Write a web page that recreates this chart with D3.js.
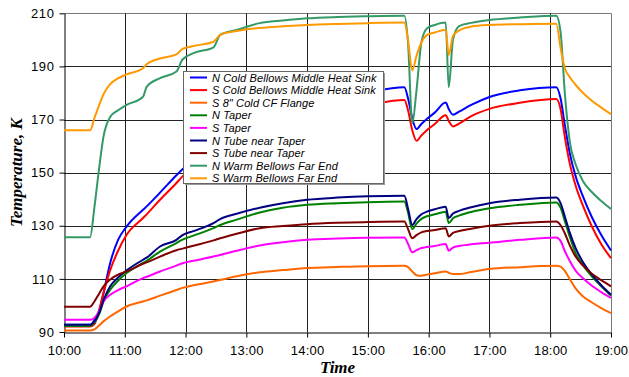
<!DOCTYPE html>
<html>
<head>
<meta charset="utf-8">
<script src="https://cdn.jsdelivr.net/npm/d3@7"></script>
<style>
  html, body { margin: 0; padding: 0; background: #fff; }
  svg { display: block; }
</style>
</head>
<body>
<div id="chart"></div>
<script>
// time of day in hours
const times = [10.0, 10.43, 10.5, 10.58, 10.65, 10.76, 10.89, 11.03, 11.3, 11.36, 11.58, 11.85, 11.95, 12.13, 12.46, 12.57, 12.84, 13.22, 13.6, 14.0, 14.5, 15.0, 15.6, 15.66, 15.73, 15.8, 15.88, 15.97, 16.1, 16.28, 16.33, 16.4, 16.5, 16.7, 17.0, 17.5, 18.1, 18.17, 18.24, 18.32, 18.42, 18.54, 18.68, 18.84, 19.0];

const nColdBellows = [92.7, 92.7, 94.5, 98, 104.6, 116, 124.7, 129.7, 136, 137.3, 142.5, 149, 151.3, 154.5, 159.5, 161, 164.5, 168.5, 171.8, 174.8, 177.8, 180.3, 182.2, 178, 170.5, 166.4, 168.3, 170.2, 172.6, 176.4, 174, 171.8, 173, 175.5, 178.5, 181, 182.2, 178, 168, 157.5, 148.5, 141, 133.5, 126.5, 120.7];
const sColdBellows = [92.1, 92.1, 93, 98.5, 104.7, 113.3, 120.6, 126.6, 132.9, 134.3, 139.8, 146.1, 148.6, 151.5, 156, 157.5, 160.8, 164.5, 167.7, 170.5, 173.3, 175.5, 177.4, 173.5, 166, 162, 164, 166, 168.3, 171.6, 169.5, 167.4, 168.5, 171.3, 174, 176.3, 177.7, 174, 163.5, 153.6, 145, 137.5, 130, 123, 117.8];
const sFlange = [90.6, 90.6, 91, 92.5, 94, 95.9, 97.8, 99.6, 101.5, 101.9, 103.7, 105.8, 106.6, 107.6, 109, 109.6, 111, 112.5, 113.3, 114.1, 114.5, 114.8, 114.9, 114.4, 112.8, 111.4, 111.2, 111.6, 112.1, 112.8, 112.3, 111.8, 111.8, 112.6, 113.7, 114.4, 114.9, 114.6, 113, 110, 106.3, 103.4, 101.2, 99, 97.1];
const nTaper = [92.3, 92.3, 93.5, 96.8, 101.5, 105.9, 109.3, 112.2, 116, 116.8, 120.3, 123.5, 124.8, 126.3, 129.1, 130.3, 132.3, 135, 136.8, 137.9, 138.5, 138.9, 139.1, 135, 128.8, 130.8, 132.6, 133.6, 134.3, 135.3, 131, 132.8, 133.8, 135.2, 136.6, 137.9, 138.8, 136.8, 131.8, 126, 119.6, 115.2, 111, 107.2, 103.7];
const sTaper = [94.6, 94.6, 95.3, 98, 101.5, 104, 105.8, 107.2, 110.3, 110.8, 112.8, 115, 115.9, 116.8, 118.4, 119, 120.6, 122.6, 123.8, 124.7, 125.2, 125.5, 125.6, 123.2, 120, 120.8, 121.6, 122, 122.4, 123.1, 120.6, 121.8, 122.4, 123, 123.6, 124.7, 125.6, 124.3, 120.5, 116.8, 113, 110.2, 107.5, 105, 102.8];
const nTube = [92.7, 92.7, 94, 97.3, 102, 107.2, 110.5, 113.2, 117.2, 118, 122.2, 124.7, 126.5, 128, 131, 132.5, 134.5, 136.8, 138.5, 139.8, 140.6, 141.1, 141.3, 136.5, 130.3, 132.5, 134.3, 135.3, 136.2, 137.2, 132.9, 134.6, 135.6, 137, 138.5, 139.8, 140.6, 138.5, 133.5, 127.5, 121.5, 116.3, 111.8, 107.6, 104];
const sTube = [99.5, 99.5, 101.5, 104.5, 107.2, 109.8, 111.6, 112.8, 115.7, 116.2, 118.4, 120.8, 121.4, 122.5, 124.5, 125.3, 127, 129.1, 129.9, 130.6, 131.1, 131.4, 131.6, 128.8, 125.3, 126.5, 127.5, 128, 128.4, 129.1, 126, 127.3, 128, 128.9, 130, 131, 131.6, 130.2, 127.2, 122.7, 118.3, 115, 112, 109.5, 107.2];
const nWarmBellows = [125.7, 125.7, 136.9, 152, 163.6, 171, 173.5, 175.5, 178.6, 182.3, 185.6, 188.1, 192.6, 195, 197.2, 201.9, 203.7, 206.3, 207.3, 208.1, 208.6, 208.9, 209.1, 199, 168.6, 181, 199, 204.3, 205.6, 206.5, 182.2, 200, 205.2, 206.4, 207.5, 208.4, 209.1, 203, 180, 162, 153, 146.8, 142.8, 139.3, 136.3];
const sWarmBellows = [166, 166, 170.5, 175.5, 179.5, 183.3, 185.5, 187, 189.3, 190.8, 193, 194.5, 196.6, 197.7, 199.3, 201.9, 203.3, 204.5, 205.1, 205.6, 206, 206.3, 206.5, 200, 188.5, 194, 199, 201.8, 202.8, 203.8, 194.3, 201.5, 203.5, 205, 205.6, 205.9, 206.1, 197, 189.3, 186, 183, 180, 177.2, 174.5, 172];

const seriesNames = ['N Cold Bellows Middle Heat Sink', 'S Cold Bellows Middle Heat Sink', 'S 8" Cold CF Flange', 'N Taper', 'S Taper', 'N Tube near Taper', 'S Tube near Taper', 'N Warm Bellows Far End', 'S Warm Bellows Far End'];
const seriesValues = [nColdBellows, sColdBellows, sFlange, nTaper, sTaper, nTube, sTube, nWarmBellows, sWarmBellows];
const colors = ['#0000ff', '#ff0000', '#ff6600', '#008000', '#ff00ff', '#000080', '#800000', '#339966', '#ff9900'];

const hourTicks = [10, 11, 12, 13, 14, 15, 16, 17, 18, 19];
const tempTicks = [90, 110, 130, 150, 170, 190, 210];

const W = 629, H = 377;
const plot = { left: 64, right: 611, top: 13.3, bottom: 332 };

const svg = d3.select('#chart').append('svg')
  .attr('width', W)
  .attr('height', H);

const x = d3.scaleLinear().domain([10, 19]).range([plot.left, plot.right]);
const y = d3.scaleLinear().domain([90, 210]).range([plot.bottom, plot.top]);

// grid
svg.append('g')
  .selectAll('line')
  .data(tempTicks.slice(1))
  .join('line')
    .attr('x1', plot.left).attr('x2', plot.right)
    .attr('y1', d => Math.round(y(d)) + 0.5).attr('y2', d => Math.round(y(d)) + 0.5)
    .attr('stroke', d => d === 210 ? '#777' : '#222')
    .attr('stroke-width', 1);
svg.append('g')
  .selectAll('line')
  .data(hourTicks.slice(1))
  .join('line')
    .attr('x1', d => Math.round(x(d)) + 0.5).attr('x2', d => Math.round(x(d)) + 0.5)
    .attr('y1', plot.top).attr('y2', plot.bottom)
    .attr('stroke', d => d === 19 ? '#777' : '#222')
    .attr('stroke-width', 1);

// axes
const yAxis = svg.append('g')
  .attr('transform', `translate(${Math.round(plot.left) + 0.5},0)`)
  .call(d3.axisLeft(y).tickValues(tempTicks).tickSize(5).tickPadding(5).tickSizeOuter(0))
  .call(g => g.selectAll('.tick line').attr('stroke', '#000'))
  .call(g => g.select('.domain').attr('stroke', '#000'));
yAxis.selectAll('text')
  .attr('font-family', 'Liberation Sans, Arial, sans-serif')
  .attr('font-size', 13)
  .attr('letter-spacing', 0.6)
  .attr('fill', '#000');

const xAxis = svg.append('g')
  .attr('transform', `translate(0,${Math.round(plot.bottom) + 0.5})`)
  .call(d3.axisBottom(x).tickValues(hourTicks).tickFormat(d => `${d}:00`).tickSize(5).tickPadding(8).tickSizeOuter(0))
  .call(g => g.selectAll('.tick line').attr('stroke', '#000'))
  .call(g => g.select('.domain').attr('stroke', '#000'));
xAxis.selectAll('text')
  .attr('font-family', 'Liberation Sans, Arial, sans-serif')
  .attr('font-size', 13)
  .attr('letter-spacing', 0.2)
  .attr('fill', '#000');

// axis titles
svg.append('text')
  .attr('x', (plot.left + plot.right) / 2)
  .attr('y', 373)
  .attr('text-anchor', 'middle')
  .attr('font-family', 'Liberation Serif, Times New Roman, serif')
  .attr('font-weight', 'bold')
  .attr('font-style', 'italic')
  .attr('font-size', 17)
  .text('Time');

svg.append('text')
  .attr('transform', `translate(22,${(plot.top + plot.bottom) / 2}) rotate(-90)`)
  .attr('text-anchor', 'middle')
  .attr('font-family', 'Liberation Serif, Times New Roman, serif')
  .attr('font-weight', 'bold')
  .attr('font-style', 'italic')
  .attr('font-size', 17)
  .text('Temperature, K');

// lines
const line = d3.line()
  .x((d, i) => x(times[i]))
  .y(d => y(d))
  .curve(d3.curveMonotoneX);

svg.append('g')
  .selectAll('path')
  .data(seriesValues)
  .join('path')
    .attr('fill', 'none')
    .attr('stroke', (d, i) => colors[i])
    .attr('stroke-width', 2)
    .attr('stroke-linejoin', 'round')
    .attr('d', line);

// legend
const lg = svg.append('g').attr('transform', 'translate(183,71)');
lg.append('rect')
  .attr('x', 2).attr('y', 2)
  .attr('width', 200).attr('height', 112)
  .attr('fill', '#999');
lg.append('rect')
  .attr('x', 0.5).attr('y', 0.5)
  .attr('width', 200).attr('height', 112)
  .attr('fill', '#fff')
  .attr('stroke', '#666');

const rows = lg.selectAll('g.row')
  .data(seriesNames)
  .join('g')
    .attr('class', 'row')
    .attr('transform', (d, i) => `translate(0,${6.5 + i * 12.6})`);
rows.append('line')
  .attr('x1', 7).attr('x2', 24)
  .attr('y1', 0).attr('y2', 0)
  .attr('stroke', (d, i) => colors[i])
  .attr('stroke-width', 2);
rows.append('text')
  .attr('x', 29)
  .attr('y', 4)
  .attr('font-family', 'Liberation Sans, Arial, sans-serif')
  .attr('font-style', 'italic')
  .attr('font-size', 11)
  .attr('letter-spacing', 0.12)
  .attr('fill', '#000')
  .text(d => d);
</script>
</body>
</html>
